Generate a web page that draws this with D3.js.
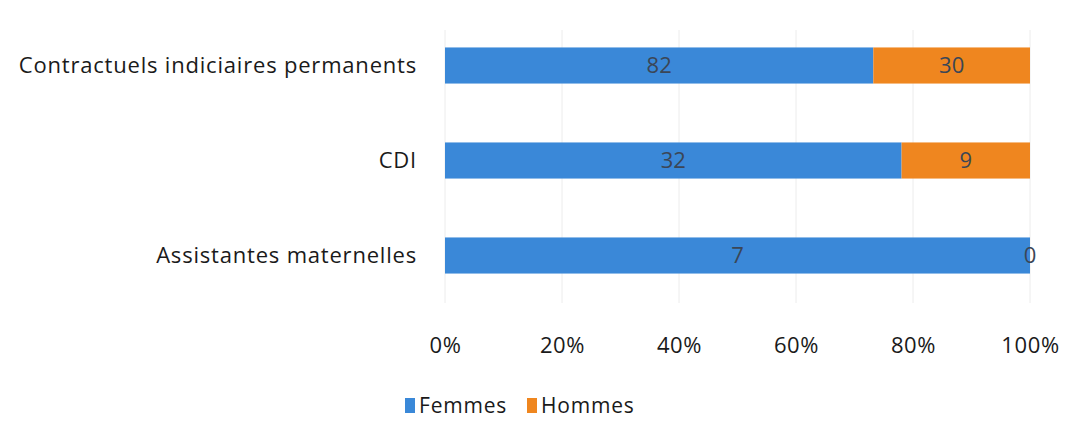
<!DOCTYPE html>
<html>
<head>
<meta charset="utf-8">
<script src="https://cdn.jsdelivr.net/npm/d3@7"></script>
<style>
  body { margin: 0; background: #fff; }
  text { font-family: "Open Sans", "Noto Sans", sans-serif; }
</style>
</head>
<body>
<div class="chart"></div>
<script>
const categories = ["Contractuels indiciaires permanents", "CDI", "Assistantes maternelles"]
const femmes = [82, 32, 7]
const hommes = [30, 9, 0]
const seriesNames = ["Femmes", "Hommes"]
const ticks = [0, 0.2, 0.4, 0.6, 0.8, 1]

const colors = ["#3a88d8", "#ef861f"]

let svg = d3.select(".chart").append("svg").attr("width", 1069).attr("height", 421),
    margin = {top: 18, right: 39, bottom: 118, left: 445},
    width = 1069 - margin.left - margin.right,
    height = 421 - margin.top - margin.bottom

let g = svg.append("g").attr("transform", `translate(${margin.left},${margin.top})`)

let rows = categories.map((c, i) => {
  let total = femmes[i] + hommes[i]
  return {cat: c, f: femmes[i], h: hommes[i], fs: femmes[i] / total, hs: hommes[i] / total}
})

let x = d3.scaleLinear().domain([0, 1]).range([0, width])
let y = d3.scaleBand().domain(categories).range([0, height]).paddingInner(0.62).paddingOuter(0.31)

// gridlines
g.selectAll(".grid").data(ticks).enter().append("line")
  .attr("x1", d => x(d)).attr("x2", d => x(d))
  .attr("y1", 12).attr("y2", height)
  .attr("stroke", "#ececec").attr("stroke-width", 1)

let stack = d3.stack().keys(["fs", "hs"])(rows)

g.selectAll(".series").data(stack).enter().append("g")
  .attr("fill", (d, i) => colors[i])
  .selectAll("rect").data(d => d).enter().append("rect")
  .attr("x", d => x(d[0]))
  .attr("width", d => x(d[1]) - x(d[0]))
  .attr("y", d => y(d.data.cat))
  .attr("height", y.bandwidth())

// value labels
stack.forEach((s, i) => {
  let key = i == 0 ? "f" : "h"
  g.selectAll(".lab" + i).data(s).enter().append("text")
    .attr("x", d => x((d[0] + d[1]) / 2))
    .attr("y", d => y(d.data.cat) + y.bandwidth() / 2)
    .attr("dy", "0.36em")
    .attr("text-anchor", "middle")
    .attr("font-size", 22)
    .attr("fill", "#3b4656")
    .text(d => d.data[key])
})

// category axis
let yAxis = g.append("g").call(d3.axisLeft(y).tickSize(0).tickPadding(28))
yAxis.select(".domain").remove()
yAxis.selectAll("text").attr("font-size", 22).attr("fill", "#1a1a1a")
  .attr("font-family", "Open Sans, sans-serif").attr("letter-spacing", 0.8).attr("dy", "0.36em")

// x axis
let xAxis = g.append("g").attr("transform", `translate(0,${height})`)
  .call(d3.axisBottom(x).tickValues(ticks).tickFormat(d3.format(".0%")).tickSize(0).tickPadding(34))
xAxis.select(".domain").remove()
xAxis.selectAll("text").attr("font-size", 22).attr("fill", "#1a1a1a")
  .attr("font-family", "Open Sans, sans-serif").attr("letter-spacing", 0.6)

// legend
let legend = svg.append("g").attr("transform", "translate(405,413)")
let lx = [0, 122]
seriesNames.forEach((n, i) => {
  let item = legend.append("g").attr("transform", `translate(${lx[i]},0)`)
  item.append("rect").attr("x", 0).attr("y", -15).attr("width", 10).attr("height", 15).attr("fill", colors[i])
  item.append("text").attr("x", 14).attr("y", 0).attr("font-size", 21).attr("letter-spacing", 0.8)
    .attr("fill", "#1a1a1a").text(n)
})
</script>
</body>
</html>
